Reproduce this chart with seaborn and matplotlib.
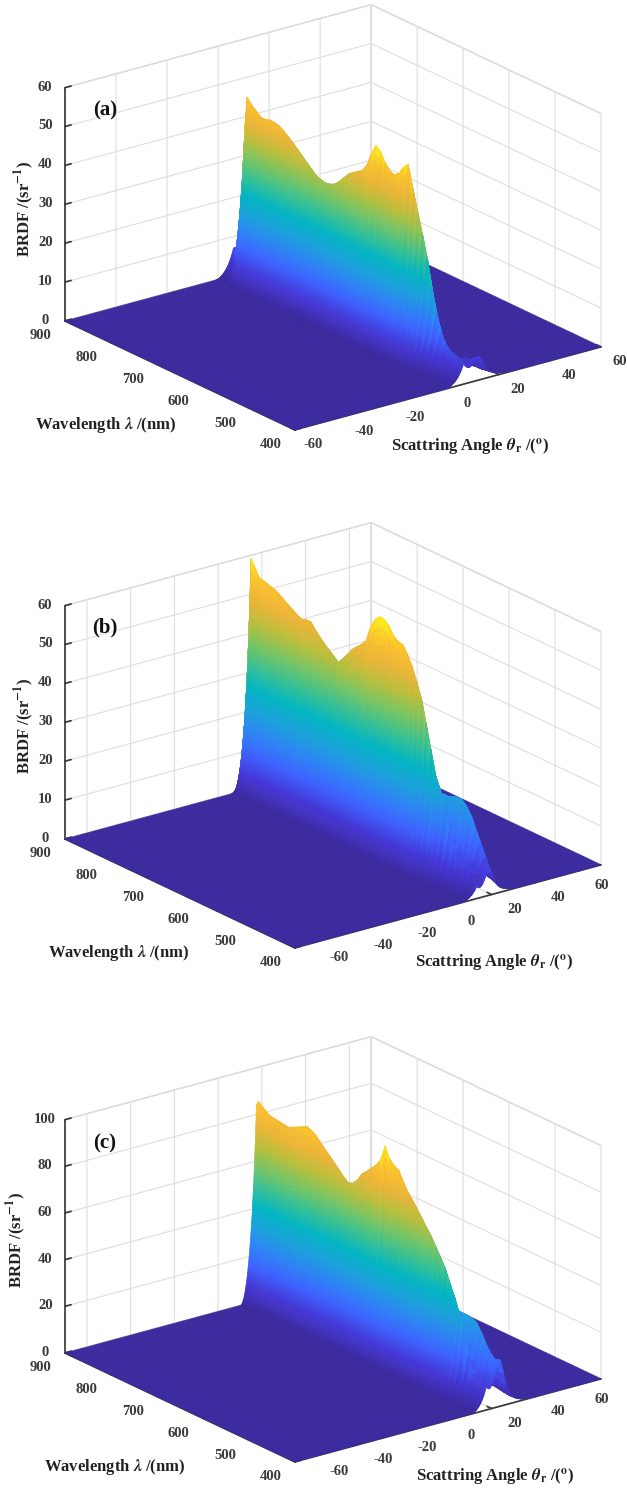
import matplotlib
matplotlib.use("Agg")
import matplotlib.pyplot as plt
import numpy as np
import seaborn as sns
from matplotlib.transforms import ScaledTranslation
from mpl_toolkits.mplot3d import proj3d

FIG_W, FIG_H = 627, 1491

wavelength = [900, 895, 890, 885, 880, 875, 870, 860, 850, 840, 830, 820, 810, 800, 790, 780, 770, 760,
              750, 740, 730, 720, 710, 700, 690, 680, 670, 660, 650, 640, 630, 620, 610, 600, 590, 580,
              570, 560, 550, 540, 530, 520, 510, 500, 490, 480, 470, 460, 450, 440, 430, 420, 410, 400]

crest_a = [7, 7.5, 8, 8, 14, 40, 47.5, 46, 45, 44, 44, 44.4, 44.3, 44, 43.2, 42.3, 41.3, 40.2,
           39.1, 38, 36.9, 35.8, 35.3, 35, 35.2, 35.8, 37, 38.5, 40, 41, 41.8, 42.6, 44.5, 48, 50.8, 49.8,
           47.5, 46, 45.4, 46.4, 48.5, 49.8, 44.2, 39, 33.8, 28.2, 21, 15, 10.5, 8, 7, 6.5, 6, 5]
crest_b = [8, 40, 60, 59, 57.8, 56.6, 56, 55.7, 55.3, 55, 54.4, 53.5, 52.7, 52, 51.2, 50.6, 51, 51,
           49.5, 48.2, 47, 46, 45, 44, 45.5, 47.2, 49, 50.2, 51.4, 52.8, 57, 59.5, 60.8, 60.6, 59.5, 57.5,
           56.6, 56.4, 54.5, 52, 48.7, 45, 39, 33, 27, 24, 20, 14, 10, 8, 7.5, 8, 6, 3]
crest_c = [84, 86, 85, 84.3, 83.5, 82.7, 82.2, 81.9, 81.6, 81.3, 81, 82, 83, 84, 85.1, 84.3, 83, 81,
           79, 77, 75.2, 73, 71, 69.4, 70, 72.5, 76, 78, 80.3, 82.5, 85.5, 92.5, 88, 86, 85, 81,
           77.5, 75, 72.2, 69.3, 66.3, 63.5, 60, 56.5, 52.8, 47.5, 42.5, 36.5, 30, 20, 13, 12, 11, 10]

# second low-wavelength shelf behind the ridge
lobe_a = [0, 0, 0, 0, 0, 0, 0, 0, 0, 0, 0, 0, 0, 0, 0, 0, 0, 0,
          0, 0, 0, 0, 0, 0, 0, 0, 0, 0, 0, 0, 0, 0, 0, 0, 0, 0,
          0, 0, 0, 0, 0, 0, 0, 0, 0, 0, 0, 1, 2, 3, 4, 4, 5, 6]
lobe_b = [0, 0, 0, 0, 0, 0, 0, 0, 0, 0, 0, 0, 0, 0, 0, 0, 0, 0,
          0, 0, 0, 0, 0, 0, 0, 0, 0, 0, 0, 0, 0, 0, 0, 0, 0, 0,
          0, 0, 0, 3, 8, 14, 18, 20, 20, 20.5, 21, 21, 20, 18, 15, 12, 9, 6]
lobe_c = [0, 0, 0, 0, 0, 0, 0, 0, 0, 0, 0, 0, 0, 0, 0, 0, 0, 0,
          0, 0, 0, 0, 0, 0, 0, 0, 0, 0, 0, 0, 0, 0, 0, 0, 0, 0,
          0, 0, 0, 4, 10, 18, 25, 30, 32, 32, 32, 32, 31, 28, 24, 21, 19, 20]

# angular shape around the specular ridge, degrees from ridge centre
offset_rise = [-7, -6.9, -6.8, -6.7, -6.6, -6.5, -6.4, -6.3, -6.2, -6.1,
               -6, -5.9, -5.8, -5.7, -5.6, -5.5, -5.4, -5.3, -5.2, -5.1,
               -5, -4.9, -4.8, -4.7, -4.6, -4.5, -4.4, -4.3, -4.2, -4.1,
               -4, -3.9, -3.8, -3.7, -3.6, -3.5, -3.4, -3.3, -3.2, -3.1,
               -3, -2.9, -2.8, -2.7, -2.6, -2.5, -2.4, -2.3, -2.2, -2.1,
               -2, -1.9, -1.8, -1.7, -1.6, -1.5, -1.4, -1.3, -1.2, -1.1,
               -1, -0.9, -0.8, -0.7, -0.6, -0.5, -0.4, -0.3, -0.2, -0.1, 0]
peak_rise = [0, 0.001, 0.002, 0.004, 0.006, 0.008, 0.01, 0.013, 0.016, 0.019,
             0.022, 0.026, 0.03, 0.034, 0.039, 0.044, 0.049, 0.055, 0.061, 0.067,
             0.074, 0.081, 0.088, 0.096, 0.104, 0.112, 0.121, 0.13, 0.139, 0.148,
             0.158, 0.168, 0.179, 0.19, 0.201, 0.212, 0.225, 0.238, 0.251, 0.265,
             0.28, 0.295, 0.31, 0.325, 0.34, 0.355, 0.372, 0.389, 0.406, 0.423,
             0.44, 0.462, 0.484, 0.506, 0.528, 0.55, 0.574, 0.598, 0.622, 0.646,
             0.67, 0.7, 0.73, 0.76, 0.79, 0.82, 0.85, 0.885, 0.92, 0.96, 1]
offset_fall = [0.5, 1, 1.5, 2, 2.5, 3, 3.5, 4, 4.5, 5, 5.5, 6, 6.5, 7, 8, 9, 10, 11, 12, 13, 14, 15, 16, 18, 20]
peak_fall = [0.97, 0.88, 0.75, 0.6, 0.45, 0.32, 0.22, 0.14, 0.09, 0.05, 0.03, 0.015, 0.006, 0,
             0, 0, 0, 0, 0, 0, 0, 0, 0, 0, 0]
lobe_fall = [0, 0, 0.06, 0.15, 0.27, 0.4, 0.55, 0.7, 0.82, 0.92, 0.97, 1, 0.97, 0.9,
             0.7, 0.45, 0.3, 0.2, 0.14, 0.1, 0.07, 0.05, 0.03, 0.01, 0]

wave_ticks = [400, 500, 600, 700, 800, 900]
angle_ticks = [-60, -40, -20, 0, 20, 40, 60]

panels = [
    dict(tag="(a)", crest=crest_a, lobe=lobe_a, center=6, lim=60, zmax=60, zstep=10, corner=(65, 321), angle_dx=9,
         tag_xy=(105, 110), ylab_xy=(24, 209), wave_xy=(106, 425), ang_xy=(470, 447)),
    dict(tag="(b)", crest=crest_b, lobe=lobe_b, center=13, lim=70, zmax=60, zstep=10, corner=(65, 839), angle_dx=13,
         tag_xy=(105, 627), ylab_xy=(24, 726), wave_xy=(119, 953), ang_xy=(494, 963)),
    dict(tag="(c)", crest=crest_c, lobe=lobe_c, center=17.5, lim=70, zmax=100, zstep=20, corner=(65, 1353), angle_dx=13,
         tag_xy=(105, 1143), ylab_xy=(16, 1240), wave_xy=(115, 1467), ang_xy=(495, 1477)),
]

sns.set_theme(style="white", rc={"grid.color": "#dedede", "grid.linewidth": 0.8, "axes.unicode_minus": False})
plt.rcParams["font.family"] = ["Liberation Serif", "DejaVu Serif"]
plt.rcParams["font.weight"] = "bold"
plt.rcParams["mathtext.fontset"] = "stix"

parula = sns.blend_palette(["#3c2a9f", "#4538d6", "#3f62ff", "#2f85f5", "#1ba3da", "#04b6c3",
                            "#39c194", "#78c566", "#b9bf3e", "#ecb539", "#fbc22f", "#f9f517"],
                           n_colors=256, as_cmap=True)

fig = plt.figure(figsize=(FIG_W / 100, FIG_H / 100), dpi=100)


def px(x, y):
    return x / FIG_W, 1 - y / FIG_H


def corner_px(ax, xv, yv, zv):
    xs, ys, _ = proj3d.proj_transform(xv, yv, zv, ax.get_proj())
    return ax.transData.transform((xs, ys))


def nudge_labels(ax, axis, dx, dy):
    # Axis3D resets tick label transforms on every draw, so override the getter
    shifted = ax.transData + ScaledTranslation(dx / 100, dy / 100, fig.dpi_scale_trans)
    for label in axis.get_ticklabels():
        label.get_transform = lambda t=shifted: t


for p in panels:
    ax = fig.add_axes([0, 0, 1, FIG_W / FIG_H], projection="3d", proj_type="ortho", computed_zorder=False)
    ax.patch.set_alpha(0)
    ax.view_init(elev=21, azim=-37.1)

    lim = p["lim"]
    offset = np.array(offset_rise + offset_fall)
    theta = np.concatenate([[-lim, -30], p["center"] + offset, [50, lim]])
    shape_main = np.concatenate([[0, 0], peak_rise, peak_fall, [0, 0]])
    shape_lobe = np.concatenate([np.zeros(len(offset_rise) + 2), lobe_fall, [0, 0]])
    Z = np.outer(p["crest"], shape_main) + np.outer(p["lobe"], shape_lobe)
    T, W = np.meshgrid(theta, wavelength)

    # one ribbon per wavelength step, far to near, so the ridge paints in the right order
    for i in range(len(wavelength) - 1):
        rows = Z[i:i + 2]
        cell = (rows[:, :-1] + rows[:, 1:]).mean(axis=0) / 2
        cell = np.append(cell, cell[-1])
        colors = parula(np.vstack([cell, cell]) / Z.max())
        ax.plot_surface(W[i:i + 2], T[i:i + 2], rows, facecolors=colors, rstride=1, cstride=1,
                        shade=False, linewidth=0.5, antialiased=True, zorder=10 + i)

    ax.set_xlim(900, 400, view_margin=0)
    ax.set_ylim(-lim, lim, view_margin=0)
    ax.set_zlim(0, p["zmax"], view_margin=0)
    ax.set_xticks(wave_ticks)
    ax.set_yticks(angle_ticks)
    ax.set_zticks(np.arange(0, p["zmax"] + 1, p["zstep"]))
    ax.zaxis.set_ticks_position("lower")
    ax.tick_params(labelsize=10.5, colors="#3a3a3a", pad=2)

    for axis in [ax.xaxis, ax.yaxis, ax.zaxis]:
        axis.set_pane_color((1, 1, 1, 1))
        axis.pane.set_edgecolor("#d4d4d4")
        axis.line.set_color("#3a3a3a")
        axis._axinfo["tick"]["inward_factor"] = 0
        axis._axinfo["tick"]["outward_factor"] = 0.25
        axis._axinfo["tick"]["color"] = "#3a3a3a"

    nudge_labels(ax, ax.xaxis, -11, 5)
    nudge_labels(ax, ax.yaxis, p["angle_dx"], 6)
    nudge_labels(ax, ax.zaxis, 3, 6)

    # fit the box onto the pixel corners of the reference
    ax.set_box_aspect((381, 384, 250))
    ax.apply_aspect()
    a = corner_px(ax, 900, -lim, 0)
    b = corner_px(ax, 400, lim, 0)
    ax.set_box_aspect((381, 384, 250), zoom=536 / (b[0] - a[0]))
    ax.apply_aspect()
    a = corner_px(ax, 900, -lim, 0)
    tx, ty = p["corner"]
    pos = ax.get_position()
    ax.set_position([pos.x0 + (tx - a[0]) / FIG_W, pos.y0 + (FIG_H - ty - a[1]) / FIG_H, pos.width, pos.height])

    fig.text(*px(*p["tag_xy"]), p["tag"], fontsize=15, ha="center", va="center", color="#111111")
    fig.text(*px(*p["ylab_xy"]), r"BRDF /(sr$^{\mathbf{-1}}$)", fontsize=12, rotation=90,
             ha="center", va="center", color="#222222")
    fig.text(*px(*p["wave_xy"]), r"Wavelength $\mathbfit{\lambda}$ /(nm)", fontsize=12,
             ha="center", va="center", color="#222222")
    fig.text(*px(*p["ang_xy"]), r"Scattring Angle $\mathbfit{\theta}_{\mathbf{r}}$ /($^{\mathbf{o}}$)", fontsize=12,
             ha="center", va="center", color="#222222")

fig.savefig("out.png", dpi=100)
